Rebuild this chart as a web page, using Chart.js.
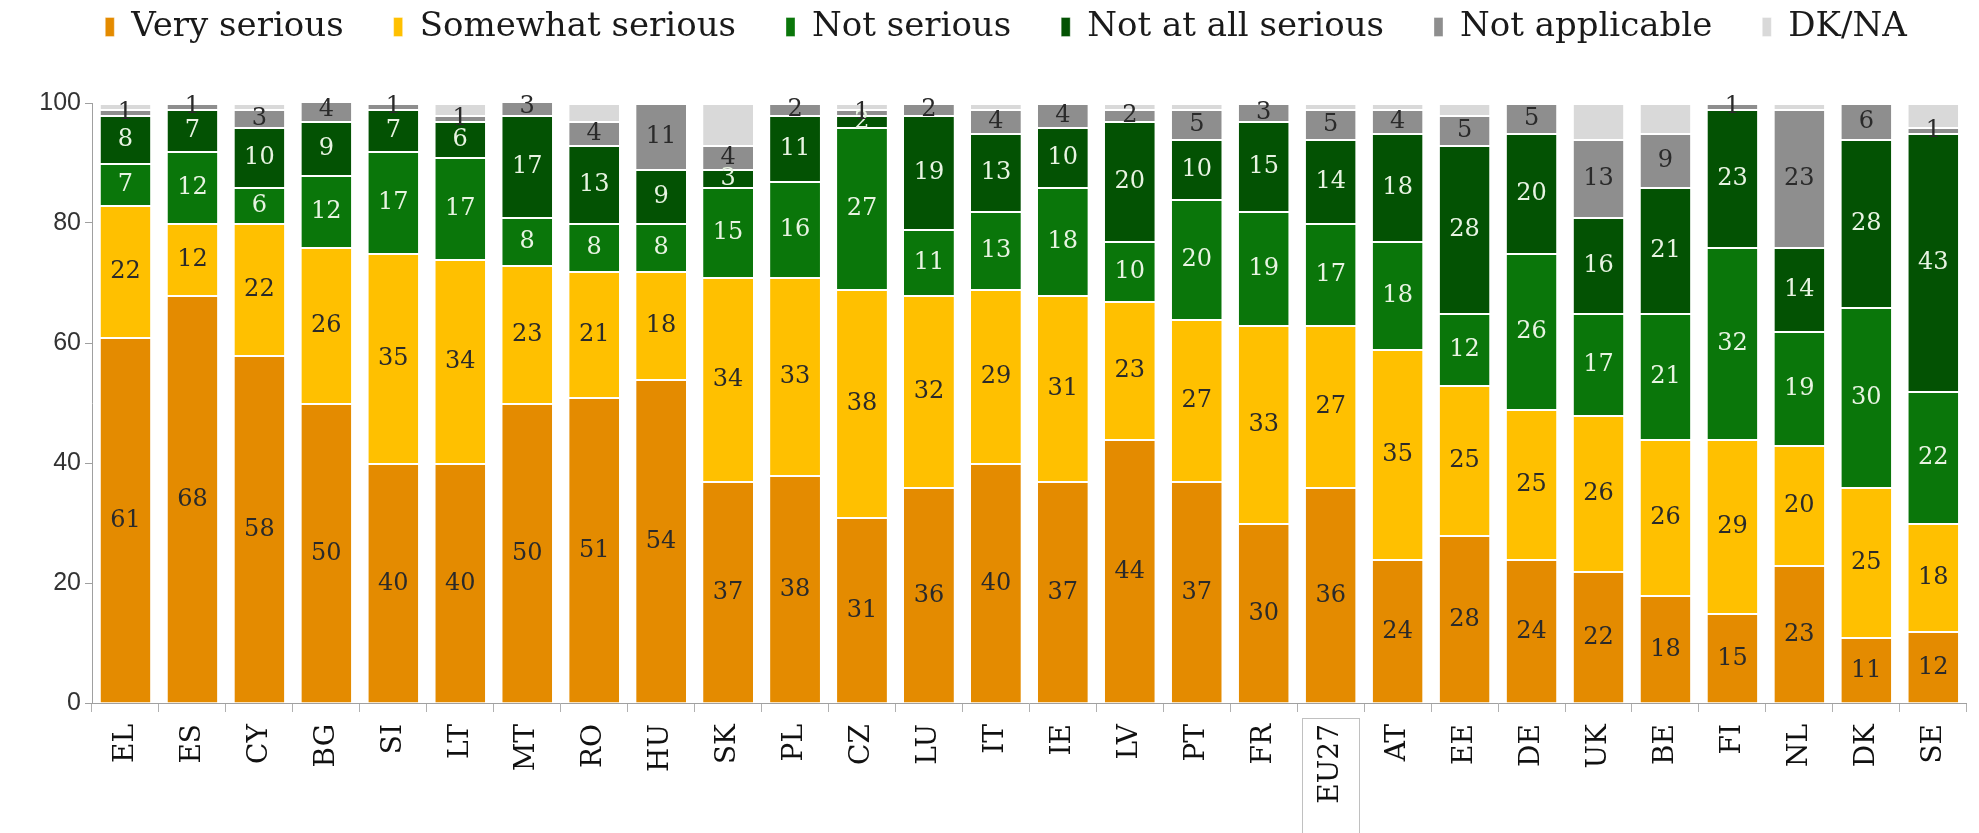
<!DOCTYPE html>
<html>
<head>
<meta charset="utf-8">
<script src="https://cdn.jsdelivr.net/npm/chart.js@4.4.1/dist/chart.umd.min.js"></script>
<style>
  html, body { margin: 0; padding: 0; background: #fff; }
  #wrap { width: 1979px; height: 833px; }
</style>
</head>
<body>
<div id="wrap"><canvas id="chart" width="1979" height="833"></canvas></div>
<script>
// ---------------------- DATA -------------------------
const countries = ['EL','ES','CY','BG','SI','LT','MT','RO','HU','SK','PL','CZ','LU','IT','IE','LV','PT','FR','EU27','AT','EE','DE','UK','BE','FI','NL','DK','SE'];

const verySerious     = [61,68,58,50,40,40,50,51,54,37,38,31,36,40,37,44,37,30,36,24,28,24,22,18,15,23,11,12];
const somewhatSerious = [22,12,22,26,35,34,23,21,18,34,33,38,32,29,31,23,27,33,27,35,25,25,26,26,29,20,25,18];
const notSerious      = [7,12,6,12,17,17,8,8,8,15,16,27,11,13,18,10,20,19,17,18,12,26,17,21,32,19,30,22];
const notAtAllSerious = [8,7,10,9,7,6,17,13,9,3,11,2,19,13,10,20,10,15,14,18,28,20,16,21,23,14,28,43];
const notApplicable   = [1,1,3,4,1,1,3,4,11,4,2,1,2,4,4,2,5,3,5,4,5,5,13,9,1,23,6,1];
const dkNa            = [1,0,1,0,0,2,0,3,0,7,0,1,0,1,0,1,1,0,1,1,2,0,6,5,0,1,0,4];

const yTicks = [0, 20, 40, 60, 80, 100];

const serif = '"DejaVu Serif", "Liberation Serif", serif';

// ---------------------- PLUGINS -------------------------
// value labels in the middle of each segment
const segmentLabels = {
      id: 'segmentLabels',
      afterDatasetsDraw(chart) {
            const ctx = chart.ctx;
            chart.data.datasets.forEach((ds, i) => {
                  if (!ds.labelColor) return;
                  const meta = chart.getDatasetMeta(i);
                  meta.data.forEach((bar, j) => {
                        const v = ds.data[j];
                        if (!v) return;
                        const p = bar.getProps(['x', 'y', 'base'], true);
                        ctx.save();
                        ctx.font = '24px ' + serif;
                        ctx.fillStyle = ds.labelColor;
                        ctx.textAlign = 'center';
                        ctx.textBaseline = 'middle';
                        ctx.fillText(String(v), p.x, (p.y + p.base) / 2 + 1);
                        ctx.restore();
                  });
            });
      }
};

// thin frame round the EU27 tick label
const euBox = {
      id: 'euBox',
      afterDraw(chart) {
            const xs = chart.scales.x;
            const cx = xs.getPixelForValue(countries.indexOf('EU27'));
            const top = xs.top + 15;
            const ctx = chart.ctx;
            ctx.save();
            ctx.strokeStyle = '#c0c0c0';
            ctx.lineWidth = 1;
            ctx.strokeRect(Math.round(cx - 29) + 0.5, Math.round(top) + 0.5, 57, chart.height - top);
            ctx.restore();
      }
};

// ---------------------- CHART -------------------------
function makeSet(label, data, color, labelColor) {
      return {
            label: label,
            data: data,
            backgroundColor: color,
            borderColor: 'rgba(255,255,255,0.7)',
            borderWidth: { top: 2, left: 0, right: 0, bottom: 0 },
            borderSkipped: 'start',
            labelColor: labelColor,
            categoryPercentage: 1,
            barPercentage: 0.745
      };
}

const ctx = document.getElementById('chart').getContext('2d');

new Chart(ctx, {
      type: 'bar',
      data: {
            labels: countries,
            datasets: [
                  makeSet('Very serious', verySerious, '#E48B00', '#2a2a2a'),
                  makeSet('Somewhat serious', somewhatSerious, '#FFC000', '#2a2a2a'),
                  makeSet('Not serious', notSerious, '#0A760A', '#e8f4e2'),
                  makeSet('Not at all serious', notAtAllSerious, '#035203', '#e8f4e2'),
                  makeSet('Not applicable', notApplicable, '#8E8E8E', '#2a2a2a'),
                  makeSet('DK/NA', dkNa, '#D9D9D9', null)
            ]
      },
      options: {
            responsive: false,
            animation: false,
            layout: { padding: { top: -40, right: 7, left: 40, bottom: 0 } },
            plugins: {
                  legend: {
                        display: true,
                        position: 'top',
                        labels: {
                              boxWidth: 9,
                              boxHeight: 19,
                              padding: 50,
                              color: '#1a1a1a',
                              font: { family: serif, size: 34 }
                        }
                  },
                  // empty title used as a spacer between legend and plot
                  title: {
                        display: true,
                        text: '',
                        position: 'top',
                        weight: 500,
                        font: { size: 10 },
                        padding: { top: 0, bottom: 37 }
                  },
                  tooltip: { enabled: false }
            },
            scales: {
                  x: {
                        stacked: true,
                        offset: true,
                        border: { display: true, color: '#a0a0a0' },
                        grid: { display: true, drawOnChartArea: false, offset: true, tickLength: 9, color: '#b0b0b0' },
                        ticks: {
                              minRotation: 90,
                              maxRotation: 90,
                              autoSkip: false,
                              padding: 12,
                              color: '#111',
                              font: { family: serif, size: 28 }
                        },
                        afterFit(scale) { scale.height = 130; }
                  },
                  y: {
                        stacked: true,
                        min: 0,
                        max: 100,
                        border: { display: true, color: '#a0a0a0' },
                        grid: { display: true, drawOnChartArea: false, tickLength: 7, color: '#a0a0a0' },
                        afterBuildTicks(scale) { scale.ticks = yTicks.map(v => ({ value: v })); },
                        ticks: {
                              padding: 4,
                              color: '#333',
                              font: { family: '"Liberation Sans", Arial, sans-serif', size: 25 }
                        },
                        afterFit(scale) { scale.width = 52; }
                  }
            }
      },
      plugins: [segmentLabels, euBox]
});
</script>
</body>
</html>
